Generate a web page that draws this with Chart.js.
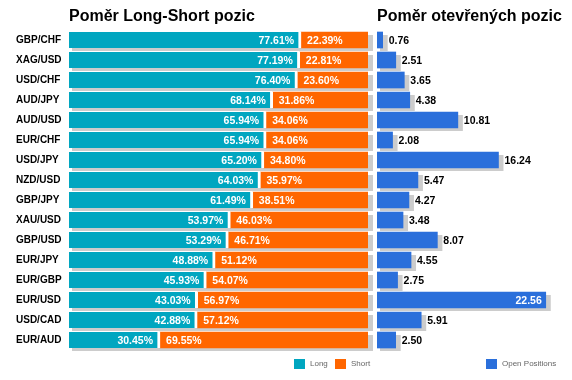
<!DOCTYPE html>
<html>
<head>
<meta charset="utf-8">
<script src="https://cdn.jsdelivr.net/npm/chart.js@4.4.1/dist/chart.umd.min.js"></script>
<style>
  body { margin: 0; background: #fff; font-family: "Liberation Sans", Arial, sans-serif; }
  #wrap { position: relative; width: 572px; height: 380px; overflow: hidden; }
  canvas { position: absolute; top: 0; }
  .title { position: absolute; top: 8px; font-size: 16px; line-height: 16px; font-weight: bold; color: #000; white-space: nowrap; }
  .leg { position: absolute; top: 359px; height: 10px; font-size: 8px; line-height: 10px; color: #666; white-space: nowrap; }
  .leg span { display: inline-block; width: 11px; height: 10px; vertical-align: top; margin-right: 5px; }
</style>
</head>
<body>
<div id="wrap">
  <canvas id="ls-chart" style="left:0" width="375" height="380"></canvas>
  <canvas id="op-chart" style="left:370px" width="202" height="380"></canvas>
  <div class="title" style="left:69px">Poměr Long-Short pozic</div>
  <div class="title" style="left:377px">Poměr otevřených pozic</div>
  <div class="leg" style="left:294px"><span style="background:#00A6C0"></span>Long</div>
  <div class="leg" style="left:335px"><span style="background:#FF6600"></span>Short</div>
  <div class="leg" style="left:486px"><span style="background:#2A6FDB"></span>Open Positions</div>
</div>
<script>
const pairs = ['GBP/CHF', 'XAG/USD', 'USD/CHF', 'AUD/JPY', 'AUD/USD', 'EUR/CHF', 'USD/JPY', 'NZD/USD',
               'GBP/JPY', 'XAU/USD', 'GBP/USD', 'EUR/JPY', 'EUR/GBP', 'EUR/USD', 'USD/CAD', 'EUR/AUD'];
const longPct = [77.61, 77.19, 76.40, 68.14, 65.94, 65.94, 65.20, 64.03, 61.49, 53.97, 53.29, 48.88, 45.93, 43.03, 42.88, 30.45];
const shortPct = [22.39, 22.81, 23.60, 31.86, 34.06, 34.06, 34.80, 35.97, 38.51, 46.03, 46.71, 51.12, 54.07, 56.97, 57.12, 69.55];
const openPos = [0.76, 2.51, 3.65, 4.38, 10.81, 2.08, 16.24, 5.47, 4.27, 3.48, 8.07, 4.55, 2.75, 22.56, 5.91, 2.50];

const FONT = '"Liberation Sans", Arial, sans-serif';
const SHADOW = '#CCCCCC';

// seda stinova plocha pod kazdym radkem (za vsemi sloupci radku)
const shadowPlugin = {
    id: 'rowShadow',
    beforeDatasetsDraw(chart) {
        const ctx = chart.ctx;
        const metas = chart.getSortedVisibleDatasetMetas();
        ctx.save();
        ctx.fillStyle = SHADOW;
        metas[0].data.forEach((bar, i) => {
            let left = Infinity, right = -Infinity;
            metas.forEach(m => {
                const b = m.data[i].getProps(['x', 'base'], true);
                left = Math.min(left, b.base, b.x);
                right = Math.max(right, b.base, b.x);
            });
            const p = bar.getProps(['y', 'height'], true);
            ctx.fillRect(left + 3, p.y - p.height / 2 + 3, right - left + 2, p.height);
        });
        ctx.restore();
    }
};

const lsLabels = {
    id: 'lsLabels',
    afterDatasetsDraw(chart) {
        const ctx = chart.ctx;
        ctx.save();
        ctx.font = 'bold 10.5px ' + FONT;
        ctx.fillStyle = '#fff';
        ctx.textBaseline = 'middle';
        chart.getDatasetMeta(0).data.forEach((bar, i) => {
            const p = bar.getProps(['x', 'y'], true);
            ctx.textAlign = 'right';
            ctx.fillText(longPct[i].toFixed(2) + '%', p.x - 7, p.y + 1);
        });
        chart.getDatasetMeta(1).data.forEach((bar, i) => {
            const p = bar.getProps(['base', 'y'], true);
            ctx.textAlign = 'left';
            ctx.fillText(shortPct[i].toFixed(2) + '%', p.base + 6, p.y + 1);
        });
        ctx.restore();
    }
};

const opLabels = {
    id: 'opLabels',
    afterDatasetsDraw(chart) {
        const ctx = chart.ctx;
        const area = chart.chartArea;
        ctx.save();
        ctx.font = 'bold 10.5px ' + FONT;
        ctx.textBaseline = 'middle';
        chart.getDatasetMeta(0).data.forEach((bar, i) => {
            const p = bar.getProps(['x', 'y'], true);
            const txt = openPos[i].toFixed(2);
            const w = ctx.measureText(txt).width;
            if (p.x + 6 + w > area.right) {
                ctx.fillStyle = '#fff';
                ctx.textAlign = 'right';
                ctx.fillText(txt, p.x - 4, p.y + 1);
            } else {
                ctx.fillStyle = '#000';
                ctx.textAlign = 'left';
                ctx.fillText(txt, p.x + 6, p.y + 1);
            }
        });
        ctx.restore();
    }
};

new Chart(document.getElementById('ls-chart'), {
    type: 'bar',
    data: {
        labels: pairs,
        datasets: [{
            label: 'Long',
            data: longPct,
            backgroundColor: '#00A6C0',
            borderColor: '#fff',
            borderWidth: { top: 0, right: 3, bottom: 0, left: 0 },
            borderSkipped: false,
            barThickness: 16
        }, {
            label: 'Short',
            data: shortPct,
            backgroundColor: '#FF6600',
            borderWidth: 0,
            barThickness: 16
        }]
    },
    options: {
        indexAxis: 'y',
        responsive: false,
        animation: false,
        layout: { padding: { left: 16, right: 7, top: 30, bottom: 30 } },
        scales: {
            x: { stacked: true, min: 0, max: 100, display: false },
            y: {
                stacked: true,
                grid: { display: false },
                border: { display: false },
                ticks: { crossAlign: 'far', color: '#000', font: { family: FONT, size: 10, weight: 'bold' } },
                afterFit: (scale) => { scale.width = 53; }
            }
        },
        plugins: { legend: { display: false }, tooltip: { enabled: false } }
    },
    plugins: [shadowPlugin, lsLabels]
});

new Chart(document.getElementById('op-chart'), {
    type: 'bar',
    data: {
        labels: pairs,
        datasets: [{
            label: 'Open Positions',
            data: openPos,
            backgroundColor: '#2A6FDB',
            borderWidth: 0,
            barThickness: 16
        }]
    },
    options: {
        indexAxis: 'y',
        responsive: false,
        animation: false,
        layout: { padding: { left: 7, right: 8, top: 30, bottom: 30 } },
        scales: {
            x: { min: 0, max: 25, display: false },
            y: { display: false }
        },
        plugins: { legend: { display: false }, tooltip: { enabled: false } }
    },
    plugins: [shadowPlugin, opLabels]
});
</script>
</body>
</html>
